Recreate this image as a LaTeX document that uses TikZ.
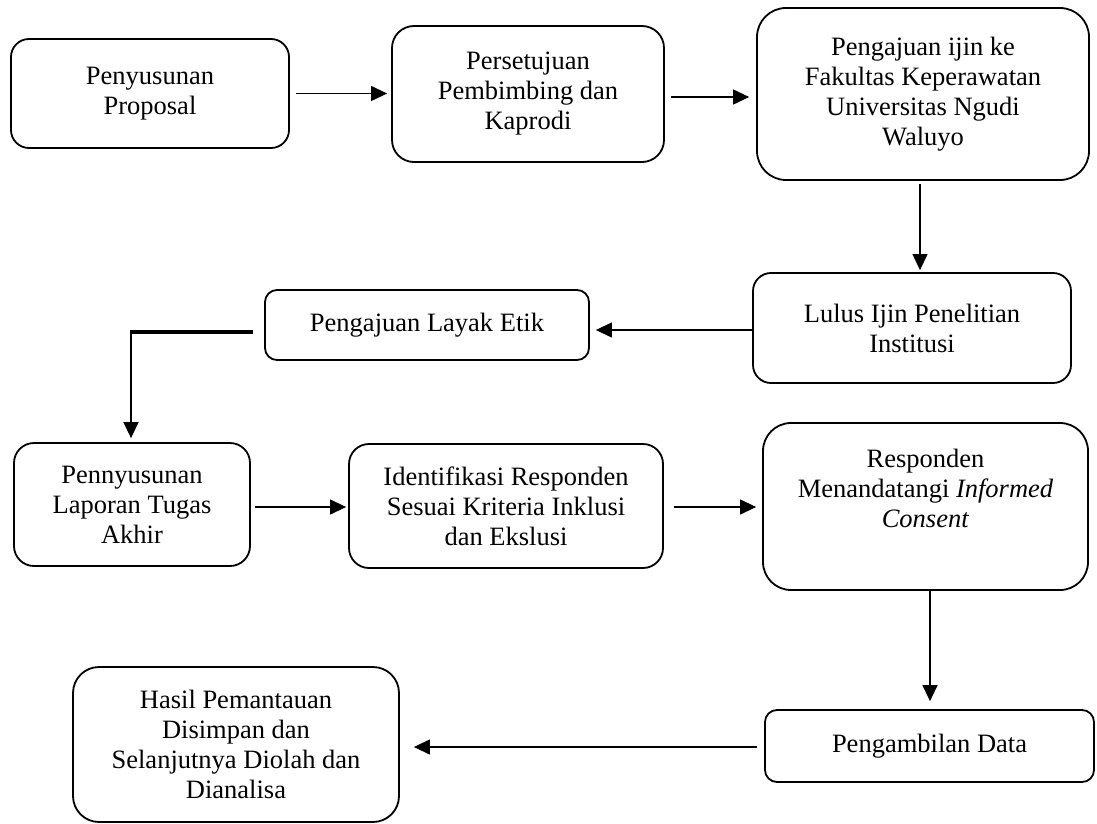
\documentclass[tikz,border=0pt]{standalone}
\usepackage{fontspec}
\setmainfont{Liberation Serif}
\usetikzlibrary{arrows.meta,calc}
\begin{document}
\begin{tikzpicture}[x=1pt,y=-1pt,
  box/.style={draw, line width=1.8pt, align=center, inner sep=0pt,
    font=\fontsize{26.5}{30}\selectfont},
  txt/.style={align=center, inner sep=0pt, font=\fontsize{26.5}{30}\selectfont},
  arr/.style={line width=1.2pt, -{Triangle[length=16pt,width=15pt]}}]
\useasboundingbox (0,0) rectangle (1097,824);
\node[box, rounded corners=18, minimum width=278, minimum height=109] (b1) at (150,93.5) {Penyusunan\\Proposal};
\node[box, rounded corners=22, minimum width=272, minimum height=136] (b2) at (528,94) {Persetujuan\\Pembimbing dan\\Kaprodi};
\node[box, rounded corners=29, minimum width=332, minimum height=172] (b3) at (923,94) {Pengajuan ijin ke\\Fakultas Keperawatan\\Universitas Ngudi\\Waluyo};
\node[box, rounded corners=18, minimum width=318, minimum height=110] (b4) at (912,328) {Lulus Ijin Penelitian\\Institusi};
\node[box, rounded corners=12, minimum width=324, minimum height=70] (b5) at (427,325) {Pengajuan Layak Etik};
\node[box, rounded corners=20, minimum width=236, minimum height=123] (b6) at (132,504.5) {Pennyusunan\\Laporan Tugas\\Akhir};
\node[box, rounded corners=20, minimum width=314, minimum height=124] (b7) at (506,506) {Identifikasi Responden\\Sesuai Kriteria Inklusi\\dan Ekslusi};
\node[box, rounded corners=28, minimum width=325, minimum height=167] (b8) at (925.5,506.5) {};
\node[txt, anchor=north] (t8) at (925.5,449) {Responden\\Menandatangi \textit{Informed}\\\textit{Consent}};
\node[box, rounded corners=12, minimum width=329, minimum height=72] (b9) at (929.5,746) {Pengambilan Data};
\node[box, rounded corners=26, minimum width=326, minimum height=155] (b10) at (236,744.5) {Hasil Pemantauan\\Disimpan dan\\Selanjutnya Diolah dan\\Dianalisa};
% connectors
\draw[arr, shorten <=6pt, shorten >=4pt] (b1.east) -- (b1.east -| b2.west);
\draw[arr, shorten <=6pt, shorten >=7pt] ([yshift=-3pt]b2.east) -- ([yshift=-3pt]b2.east -| b3.west);
\draw[arr, shorten <=3pt, shorten >=2pt] ([xshift=-3pt]b3.south) -- ([xshift=-3pt]b3.south |- b4.north);
\draw[arr, shorten >=6pt] ([yshift=-2pt]b4.west) -- ([yshift=-2pt]b4.west -| b5.east);
\coordinate (c5) at (253,332);
\coordinate (c6) at (131,332);
\draw[line width=3.5pt] (c5) -- ([xshift=-1pt]c6);
\draw[arr, line width=1.5pt, shorten >=4pt] (c6) -- (c6 |- b6.north);
\draw[arr, shorten <=4pt, shorten >=2pt] ([yshift=-2.5pt]b6.east) -- ([yshift=-2.5pt]b6.east -| b7.west);
\draw[arr, shorten <=10pt, shorten >=6pt] ([yshift=-1pt]b7.east) -- ([yshift=-1pt]b7.east -| b8.west);
\draw[arr, line width=1.5pt, shorten >=8pt] ([xshift=4.5pt]b8.south) -- ([xshift=4.5pt]b8.south |- b9.north);
\draw[arr, shorten <=7pt, shorten >=14pt] ([yshift=-1pt]b9.west) -- ([yshift=-1pt]b9.west -| b10.east);
\end{tikzpicture}
\end{document}
